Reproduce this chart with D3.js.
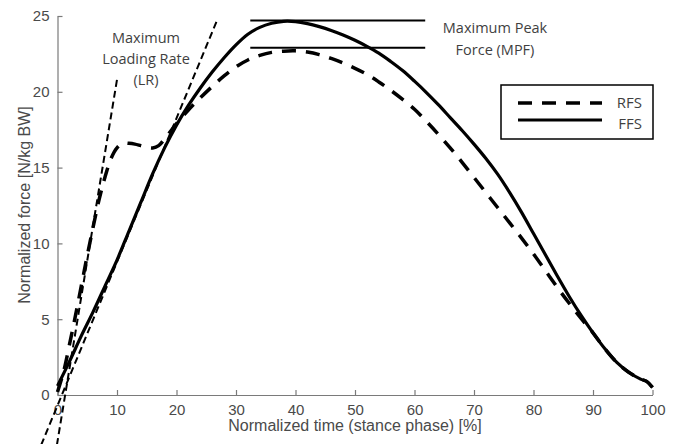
<!DOCTYPE html>
<html>
<head>
<meta charset="utf-8">
<script src="https://cdn.jsdelivr.net/npm/d3@7"></script>
<style>
  body { margin: 0; background: #fff; }
  .axis path, .axis line { stroke: #7a7a7a; stroke-width: 1.2; }
  .axis text { fill: #4a4a4a; font-family: "Liberation Sans", Arial, sans-serif; font-size: 15px; }
</style>
</head>
<body>
<div id="chart-area"></div>
<script>
// stance phase [%]
const timeFFS = [0, 2, 4, 6, 8, 10, 12, 14, 16, 18, 20, 22, 24, 26, 28, 30, 32, 34, 36, 38, 40,
  42, 44, 46, 48, 50, 52, 54, 56, 58, 60, 62, 64, 66, 68, 70, 72, 74, 76, 78, 80,
  82, 84, 86, 88, 90, 92, 94, 96, 98, 99, 100]
const forceFFS = [0.6, 2.2, 3.9, 5.5, 7.2, 8.9, 10.8, 12.7, 14.6, 16.3, 17.8, 19.1, 20.25, 21.3, 22.25, 23.1, 23.8, 24.25, 24.52, 24.65, 24.63,
  24.5, 24.3, 24.05, 23.75, 23.4, 23.0, 22.55, 22.0, 21.4, 20.7, 19.95, 19.15, 18.3, 17.45, 16.55, 15.6, 14.55, 13.35, 12.05, 10.65,
  9.25, 7.85, 6.5, 5.25, 4.1, 3.05, 2.15, 1.5, 1.05, 0.9, 0.5]

const timeRFS = [0, 1, 2, 3, 4, 5, 6, 7, 8, 9, 10, 11, 12, 13, 14, 15, 16, 17, 18, 19, 20,
  22, 24, 26, 28, 30, 32, 34, 36, 38, 40, 42, 44, 46, 48, 50, 52, 54, 56, 58, 60,
  62, 64, 66, 68, 70, 72, 74, 76, 78, 80, 82, 84, 86, 88, 90, 92, 94, 96, 98, 99, 100]
const forceRFS = [0.2, 1.5, 3.3, 5.2, 7.2, 9.2, 11.1, 12.9, 14.4, 15.6, 16.3, 16.6, 16.6, 16.55, 16.45, 16.35, 16.3, 16.45, 16.9, 17.4, 17.9,
  18.8, 19.6, 20.35, 21.05, 21.65, 22.1, 22.4, 22.6, 22.68, 22.7, 22.62, 22.45, 22.2, 21.9, 21.55, 21.15, 20.65, 20.1, 19.5, 18.85,
  18.05, 17.2, 16.3, 15.35, 14.35, 13.35, 12.35, 11.35, 10.35, 9.3, 8.2, 7.1, 6.05, 5.05, 4.1, 3.05, 2.15, 1.5, 1.05, 0.9, 0.5]

// loading rate tangents and peak force levels
const tangentRFS = [[-0.1, -3.3], [10.0, 20.8]]
const tangentFFS = [[-2.75, -3.3], [26.8, 24.7]]
const peakLevels = [24.7, 22.9]
const peakSpan = [32.4, 61.8]

const xTicks = [0, 10, 20, 30, 40, 50, 60, 70, 80, 90, 100]
const yTicks = [0, 5, 10, 15, 20, 25]

const WIDTH = 676
const HEIGHT = 444
const PLOT = { LEFT: 57.5, RIGHT: 652.5, TOP: 16, BOTTOM: 395 }

const svg = d3.select("#chart-area").append("svg")
  .attr("width", WIDTH)
  .attr("height", HEIGHT)

const x = d3.scaleLinear().domain([0, 100]).range([PLOT.LEFT, PLOT.RIGHT])
const y = d3.scaleLinear().domain([0, 25]).range([PLOT.BOTTOM, PLOT.TOP])

// axes (MATLAB style, ticks inside)
svg.append("g")
  .attr("class", "axis")
  .attr("transform", `translate(0, ${PLOT.BOTTOM})`)
  .call(d3.axisBottom(x).tickValues(xTicks).tickSizeInner(-5).tickSizeOuter(0).tickPadding(9))

svg.append("g")
  .attr("class", "axis")
  .attr("transform", `translate(${PLOT.LEFT}, 0)`)
  .call(d3.axisLeft(y).tickValues(yTicks).tickSizeInner(-5).tickSizeOuter(0).tickPadding(8))

// axis labels
svg.append("text")
  .attr("x", 355)
  .attr("y", 431)
  .attr("text-anchor", "middle")
  .attr("fill", "#4a4a4a")
  .attr("font-family", "Liberation Sans, Arial, sans-serif")
  .attr("font-size", "16px")
  .text("Normalized time (stance phase) [%]")

svg.append("text")
  .attr("transform", "translate(30, 205) rotate(-90)")
  .attr("text-anchor", "middle")
  .attr("fill", "#4a4a4a")
  .attr("font-family", "Liberation Sans, Arial, sans-serif")
  .attr("font-size", "16px")
  .text("Normalized force [N/kg BW]")

const line = d3.line()
  .x(d => x(d[0]))
  .y(d => y(d[1]))

const smooth = d3.line()
  .x(d => x(d[0]))
  .y(d => y(d[1]))
  .curve(d3.curveCatmullRom.alpha(0.5))

// tangent lines
;[tangentRFS, tangentFFS].forEach(t => {
  svg.append("path")
    .attr("d", line(t))
    .attr("fill", "none")
    .attr("stroke", "#000")
    .attr("stroke-width", 2)
    .attr("stroke-dasharray", "7,4")
})

// peak lines
peakLevels.forEach(v => {
  svg.append("path")
    .attr("d", line(peakSpan.map(t => [t, v])))
    .attr("fill", "none")
    .attr("stroke", "#000")
    .attr("stroke-width", 2)
})

// curves
svg.append("path")
  .attr("d", smooth(timeRFS.map((t, i) => [t, forceRFS[i]])))
  .attr("fill", "none")
  .attr("stroke", "#000")
  .attr("stroke-width", 3.5)
  .attr("stroke-dasharray", "14,10")

svg.append("path")
  .attr("d", smooth(timeFFS.map((t, i) => [t, forceFFS[i]])))
  .attr("fill", "none")
  .attr("stroke", "#000")
  .attr("stroke-width", 3.2)

// annotations
const note = (lines, cx, y0, dy) => {
  const t = svg.append("text")
    .attr("text-anchor", "middle")
    .attr("fill", "#3f3f3f")
    .attr("font-family", "Open Sans, sans-serif")
    .attr("font-size", "14.5px")
  lines.forEach((s, i) => {
    t.append("tspan").attr("x", cx).attr("y", y0 + i * dy).text(s)
  })
}
note(["Maximum", "Loading Rate", "(LR)"], 146, 43, 21)
note(["Maximum Peak", "Force (MPF)"], 495, 33, 22)

// legend
const legend = svg.append("g")
legend.append("rect")
  .attr("x", 501).attr("y", 85)
  .attr("width", 152).attr("height", 54)
  .attr("fill", "#fff")
  .attr("stroke", "#000")
  .attr("stroke-width", 1.5)

legend.append("line")
  .attr("x1", 518).attr("x2", 602)
  .attr("y1", 103).attr("y2", 103)
  .attr("stroke", "#000")
  .attr("stroke-width", 3.5)
  .attr("stroke-dasharray", "14,10")

legend.append("line")
  .attr("x1", 518).attr("x2", 602)
  .attr("y1", 120).attr("y2", 120)
  .attr("stroke", "#000")
  .attr("stroke-width", 3.2)

;[["RFS", 108], ["FFS", 129]].forEach(([s, yy]) => {
  legend.append("text")
    .attr("x", 642).attr("y", yy)
    .attr("text-anchor", "end")
    .attr("fill", "#3f3f3f")
    .attr("font-family", "Open Sans, sans-serif")
    .attr("font-size", "15px")
    .text(s)
})
</script>
</body>
</html>
